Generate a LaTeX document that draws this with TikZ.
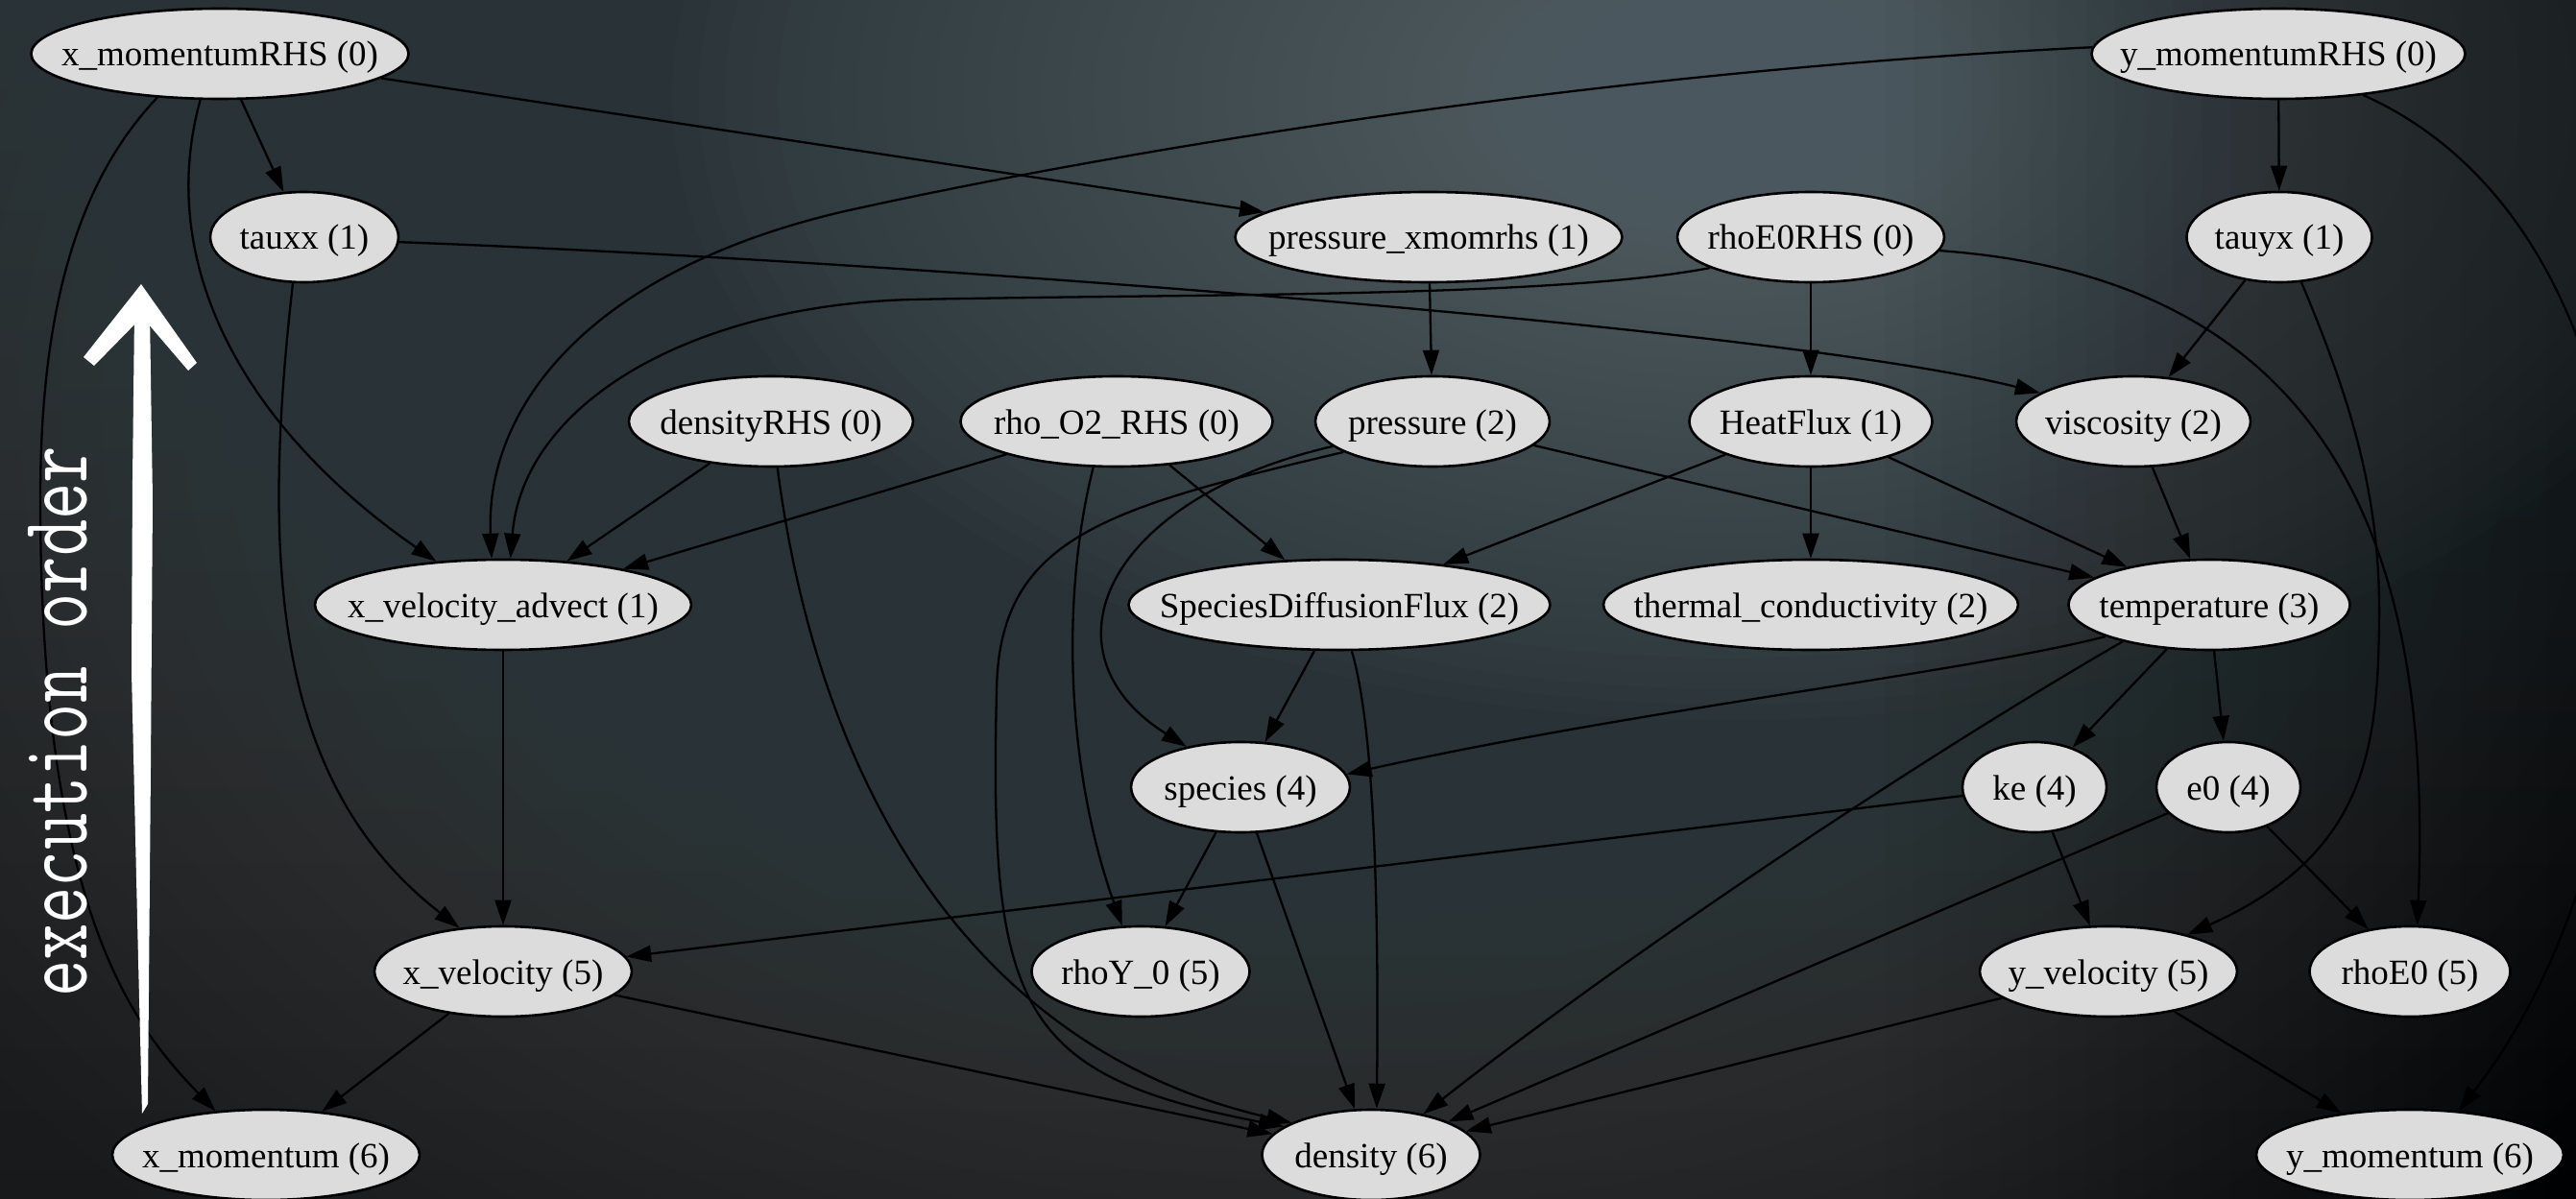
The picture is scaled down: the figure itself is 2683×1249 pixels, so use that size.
\documentclass[tikz,border=0pt]{standalone}
\usepackage{fontspec}
\usepackage{graphicx}
\usetikzlibrary{arrows.meta,shapes.geometric}
\newfontfamily\nodefont{Liberation Serif}
\definecolor{bgTop}{HTML}{282D30}
\definecolor{bgBot}{HTML}{18191A}
\definecolor{glowA}{HTML}{454E52}
\definecolor{glowB}{HTML}{66737A}
\definecolor{nodegray}{HTML}{DCDCDC}
\newcommand{\nlab}[1]{\makebox[0pt]{#1}}
\tikzset{
  gnode/.style={ellipse, draw=black, line width=2.6pt, fill=nodegray, inner sep=0pt,
    minimum height=94pt, text height=26pt, text depth=0pt,
    font=\nodefont\fontsize{37}{40}\selectfont},
  dep/.style={draw=black, line width=2.3pt, -{Triangle[length=26pt,width=17pt]}},
}
\begin{document}
\begin{tikzpicture}[x=1pt,y=-1pt]
\path[use as bounding box] (0,0) rectangle (2683,1249);
\begin{scope}
\clip (0,0) rectangle (2683,1249);
\shade[top color=bgTop, bottom color=bgBot] (0,0) rectangle (2683,1249);
\foreach \i in {1,...,40} {
  \fill[glowA, fill opacity=0.036] (1380,420) ellipse [x radius={42.5*\i}, y radius={30*\i}];
}
\foreach \i in {1,...,40} {
  \fill[glowB, fill opacity=0.036] (1800,100) ellipse [x radius={27.5*\i}, y radius={16.25*\i}];
}
\foreach \i in {1,...,24} {
  \fill[black, fill opacity=0.018] ({2683-30*\i},0) rectangle (2683,1249);
}

% nodes
\node[gnode, minimum width=393pt] (xmr) at (229,56) {\nlab{x\_momentumRHS (0)}};
\node[gnode, minimum width=389pt] (ymr) at (2373,56) {\nlab{y\_momentumRHS (0)}};
\node[gnode, minimum width=196pt] (tauxx) at (317,247) {\nlab{tauxx (1)}};
\node[gnode, minimum width=403pt] (pxm) at (1488,247) {\nlab{pressure\_xmomrhs (1)}};
\node[gnode, minimum width=278pt] (re0rhs) at (1886,247) {\nlab{rhoE0RHS (0)}};
\node[gnode, minimum width=193pt] (tauyx) at (2374,247) {\nlab{tauyx (1)}};
\node[gnode, minimum width=296pt] (drhs) at (803,439) {\nlab{densityRHS (0)}};
\node[gnode, minimum width=325pt] (ro2) at (1163,439) {\nlab{rho\_O2\_RHS (0)}};
\node[gnode, minimum width=244pt] (pres) at (1492,439) {\nlab{pressure (2)}};
\node[gnode, minimum width=253pt] (hf) at (1886,439) {\nlab{HeatFlux (1)}};
\node[gnode, minimum width=244pt] (visc) at (2222,439) {\nlab{viscosity (2)}};
\node[gnode, minimum width=392pt] (xva) at (524,630) {\nlab{x\_velocity\_advect (1)}};
\node[gnode, minimum width=439pt] (sdf) at (1395,630) {\nlab{SpeciesDiffusionFlux (2)}};
\node[gnode, minimum width=432pt] (tc) at (1886,630) {\nlab{thermal\_conductivity (2)}};
\node[gnode, minimum width=293pt] (temp) at (2301,630) {\nlab{temperature (3)}};
\node[gnode, minimum width=228pt] (spec) at (1292,820) {\nlab{species (4)}};
\node[gnode, minimum width=150pt] (ke) at (2119,820) {\nlab{ke (4)}};
\node[gnode, minimum width=150pt] (e0) at (2321,820) {\nlab{e0 (4)}};
\node[gnode, minimum width=268pt] (xv) at (524,1012) {\nlab{x\_velocity (5)}};
\node[gnode, minimum width=227pt] (rhoy) at (1188,1012) {\nlab{rhoY\_0 (5)}};
\node[gnode, minimum width=268pt] (yv) at (2196,1012) {\nlab{y\_velocity (5)}};
\node[gnode, minimum width=209pt] (rhoe0) at (2510,1012) {\nlab{rhoE0 (5)}};
\node[gnode, minimum width=320pt] (xm) at (277,1203) {\nlab{x\_momentum (6)}};
\node[gnode, minimum width=227pt] (dens) at (1428,1203) {\nlab{density (6)}};
\node[gnode, minimum width=320pt] (ym) at (2510,1203) {\nlab{y\_momentum (6)}};

% edges
\draw[dep] (xmr) -- (tauxx);
\draw[dep] (xmr) -- (pxm);
\draw[dep] (xmr.247) .. controls (160,280) and (260,450) .. (xva.147);
\draw[dep] (xmr.215) .. controls (70,200) and (42,350) .. (42,520) .. controls (42,950) and (140,1070) .. (xm.139);
\draw[dep] (tauxx.357) .. controls (900,270) and (1850,340) .. (visc.163);
\draw[dep] (ymr.178) .. controls (1650,75) and (1150,160) .. (880,220) .. controls (620,280) and (505,420) .. (xva.104);
\draw[dep] (re0rhs.197) .. controls (1620,310) and (1250,306) .. (950,312) .. controls (720,318) and (545,420) .. (xva.81);
\draw[dep] (tauxx.256) .. controls (270,600) and (290,820) .. (xv.135);
\draw[dep] (xva) -- (xv);
\draw[dep] (drhs) -- (xva);
\draw[dep] (drhs.278) .. controls (850,800) and (1000,1090) .. (dens.158);
\draw[dep] (ro2) -- (xva);
\draw[dep] (ro2) -- (sdf);
\draw[dep] (ro2.243) .. controls (1105,620) and (1110,800) .. (rhoy.112);
\draw[dep] (pxm) -- (pres);
\draw[dep] (re0rhs) -- (hf);
\draw[dep] (re0rhs.354) .. controls (2420,290) and (2535,560) .. (rhoe0.81);
\draw[dep] (tauyx) -- (visc);
\draw[dep] (tauyx.296) .. controls (2450,420) and (2480,520) .. (2478,650) .. controls (2476,780) and (2465,890) .. (yv.25);
\draw[dep] (ymr) -- (tauyx);
\draw[dep] (ymr.334) .. controls (2800,250) and (2800,850) .. (ym.42);
\draw[dep] (pres) -- (temp);
\draw[dep] (pres.194) .. controls (1150,520) and (1080,680) .. (spec.143);
\draw[dep] (pres.199) .. controls (1150,530) and (1040,560) .. (1038,720) .. controls (1030,1050) and (1060,1120) .. (dens.162);
\draw[dep] (hf) -- (sdf);
\draw[dep] (hf) -- (tc);
\draw[dep] (hf) -- (temp);
\draw[dep] (visc) -- (temp);
\draw[dep] (sdf) -- (spec);
\draw[dep] (sdf.285) .. controls (1432,760) and (1436,950) .. (dens.83);
\draw[dep] (temp.197) .. controls (2050,700) and (1700,740) .. (spec.7);
\draw[dep] (temp.203) .. controls (2000,790) and (1700,990) .. (dens.38);
\draw[dep] (temp) -- (ke);
\draw[dep] (temp) -- (e0);
\draw[dep] (spec) -- (rhoy);
\draw[dep] (spec) -- (dens);
\draw[dep] (ke) -- (xv);
\draw[dep] (ke) -- (yv);
\draw[dep] (e0) -- (dens);
\draw[dep] (e0) -- (rhoe0);
\draw[dep] (xv) -- (xm);
\draw[dep] (xv) -- (dens);
\draw[dep] (yv) -- (dens);
\draw[dep] (yv) -- (ym);

% execution order arrow and label
\fill[white] (140,326) -- (156,326) -- (159,520) -- (157,800) -- (154,1150) -- (148,1160) -- (144,1000) -- (137,700) -- (138,500) -- cycle;
\fill[white] (87,372) -- (147,296) -- (205,378) -- (196,386) -- (148,330) -- (98,381) -- cycle;
\node[rotate=90, anchor=base, text=white, inner sep=0pt, font=\ttfamily\fontsize{100}{110}\selectfont] (eo) at (90,752) {\scalebox{0.743}[1]{execution order}};
\end{scope}
\end{tikzpicture}
\end{document}
